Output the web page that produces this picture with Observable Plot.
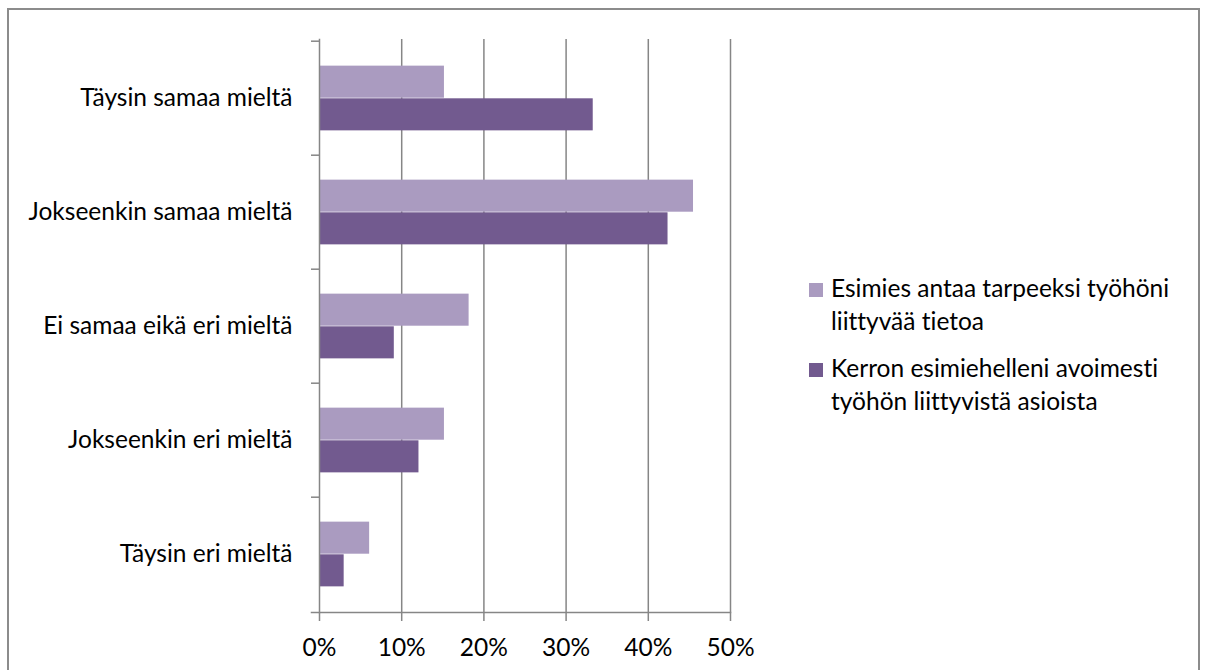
<!DOCTYPE html>
<html>
<head>
<meta charset="utf-8">
<script src="https://cdn.jsdelivr.net/npm/d3@7"></script>
<script src="https://cdn.jsdelivr.net/npm/@observablehq/plot@0.6"></script>
<style>
  html, body { margin: 0; padding: 0; background: #fff; overflow: hidden; }
  #wrap { position: relative; width: 1205px; height: 670px; font-family: Lato, "Noto Sans", sans-serif; font-variant-ligatures: none; }
  #wrap svg text { font-variant-ligatures: none; }
  #border { position: absolute; left: 7px; top: 8px; width: 1193px; height: 700px; border: 2px solid #8c8c8c; box-sizing: border-box; pointer-events: none; }
  #chart { position: absolute; left: 0; top: 0; }
  #legend { position: absolute; left: 809px; top: 271px; font-size: 24.5px; color: #000; }
  .item { display: flex; align-items: flex-start; margin-bottom: 13.5px; }
  .swatch { width: 14px; height: 14px; margin-top: 12.3px; margin-right: 8px; flex: none; }
  .lines { line-height: 33px; white-space: nowrap; }
</style>
</head>
<body>
<div id="wrap">
  <div id="chart"></div>
  <div id="legend"></div>
  <div id="border"></div>
</div>
<script>
// Survey answer categories, top to bottom
const categories = [
  "Täysin samaa mieltä",
  "Jokseenkin samaa mieltä",
  "Ei samaa eikä eri mieltä",
  "Jokseenkin eri mieltä",
  "Täysin eri mieltä"
];

// Two statements, each shown as a legend entry on two lines
const seriesLines = [
  ["Esimies antaa tarpeeksi työhöni", "liittyvää tietoa"],
  ["Kerron esimiehelleni avoimesti", "työhön liittyvistä asioista"]
];
const seriesNames = seriesLines.map(l => l.join(" "));
const seriesColors = ["#aa9bc0", "#725a8f"];

// Share of respondents (%) per category
const infoValues = [15.2, 45.5, 18.2, 15.2, 6.1];
const opennessValues = [33.3, 42.4, 9.1, 12.1, 3.0];

// Horizontal axis ticks (%)
const xTicks = [0, 10, 20, 30, 40, 50];

const rows = categories.flatMap((c, i) => [
  {category: c, series: seriesNames[0], value: infoValues[i]},
  {category: c, series: seriesNames[1], value: opennessValues[i]}
]);

const W = 1205, H = 670;
const mLeft = 319, mRight = W - 730, mTop = 39, mBottom = H - 612;
const band = (H - mTop - mBottom) / categories.length;
const barH = band * 0.285;
const outer = (band - 2 * barH) / 2;
const fs = 24.5;
const grey = "#868686";

const chart = Plot.plot({
  width: W,
  height: H,
  marginLeft: mLeft,
  marginRight: mRight,
  marginTop: mTop,
  marginBottom: mBottom,
  style: {fontFamily: "Lato, 'Noto Sans', sans-serif", fontSize: fs + "px", color: "#000", background: "transparent"},
  x: {domain: [0, 50], label: null},
  y: {domain: categories, padding: 0, label: null},
  color: {domain: seriesNames, range: seriesColors},
  marks: [
    Plot.gridX(xTicks.slice(1), {stroke: grey, strokeOpacity: 1, strokeWidth: 1.5}),
    Plot.barX(rows.filter(d => d.series === seriesNames[0]), {
      x: "value", y: "category", fill: "series",
      insetTop: outer, insetBottom: outer + barH
    }),
    Plot.barX(rows.filter(d => d.series === seriesNames[1]), {
      x: "value", y: "category", fill: "series",
      insetTop: outer + barH, insetBottom: outer
    }),
    Plot.frame({anchor: "left", stroke: grey, strokeWidth: 1.5}),
    Plot.frame({anchor: "bottom", stroke: grey, strokeWidth: 1.5, insetLeft: -8}),
    // ticks between categories on the vertical axis
    Plot.axisY({tickSize: 8, text: null, label: null, dy: -band / 2, stroke: grey, strokeWidth: 1.5}),
    Plot.axisY({tickSize: 0, tickPadding: 27, label: null, textAnchor: "end", dy: 7.5 - 0.32 * fs, fill: "#000"}),
    Plot.axisX(xTicks, {
      tickSize: 9, stroke: grey, strokeWidth: 1.5, fill: "#000", label: null,
      tickPadding: 655 - 0.71 * fs - 621, tickFormat: d => d + "%"
    })
  ]
});
document.getElementById("chart").appendChild(chart);

// Legend
const legend = document.getElementById("legend");
seriesLines.forEach((lines, i) => {
  const item = document.createElement("div");
  item.className = "item";
  const sw = document.createElement("div");
  sw.className = "swatch";
  sw.style.background = seriesColors[i];
  const txt = document.createElement("div");
  txt.className = "lines";
  txt.innerHTML = lines.join("<br>");
  item.appendChild(sw);
  item.appendChild(txt);
  legend.appendChild(item);
});
</script>
</body>
</html>
